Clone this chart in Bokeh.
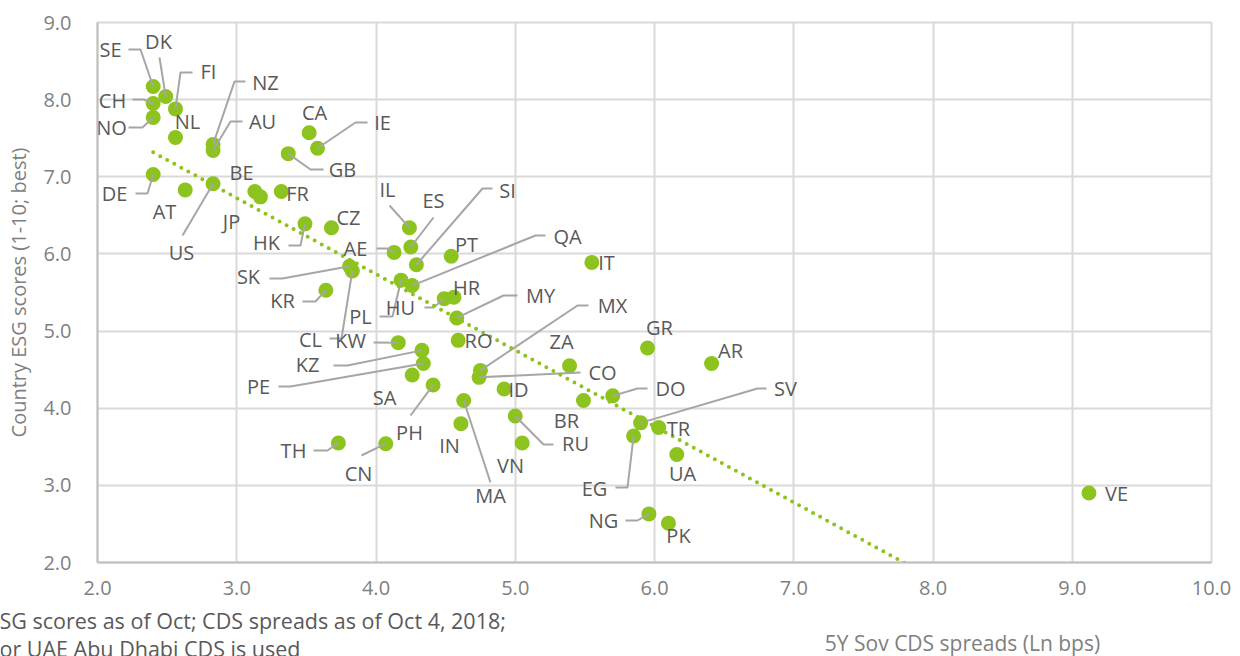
import numpy as np
from bokeh.plotting import figure
from bokeh.layouts import column
from bokeh.models import Range1d, FixedTicker, NumeralTickFormatter
from bokeh.core.properties import value
from bokeh.embed import file_html
from bokeh.resources import INLINE

# ---------------- data ----------------
countries = ["SE", "DK", "CH", "NO", "FI", "NL", "NZ", "AU", "CA", "IE",
             "GB", "DE", "AT", "US", "BE", "JP", "FR", "HK", "CZ", "IL",
             "ES", "AE", "SI", "PT", "SK", "CL", "IT", "QA", "PL", "HU",
             "HR", "MY", "KW", "RO", "KZ", "PE", "SA", "PH", "MX", "CO",
             "ID", "IN", "MA", "RU", "VN", "TH", "CN", "ZA", "BR", "DO",
             "GR", "AR", "SV", "TR", "EG", "UA", "NG", "PK", "VE", "KR"]
cds_spread = [2.40, 2.49, 2.40, 2.40, 2.56, 2.56, 2.83, 2.83, 3.52, 3.58,
              3.37, 2.40, 2.63, 2.83, 3.13, 3.17, 3.32, 3.49, 3.68, 4.24,
              4.25, 4.13, 4.29, 4.54, 3.81, 3.83, 5.55, 4.26, 4.18, 4.49,
              4.56, 4.58, 4.16, 4.59, 4.33, 4.34, 4.26, 4.41, 4.75, 4.74,
              4.92, 4.61, 4.63, 5.00, 5.05, 3.73, 4.07, 5.39, 5.49, 5.70,
              5.95, 6.41, 5.90, 6.03, 5.85, 6.16, 5.96, 6.10, 9.12, 3.64]
esg_score = [8.17, 8.04, 7.95, 7.77, 7.88, 7.51, 7.42, 7.34, 7.57, 7.37,
             7.30, 7.03, 6.83, 6.91, 6.81, 6.74, 6.81, 6.39, 6.34, 6.34,
             6.09, 6.02, 5.86, 5.97, 5.84, 5.78, 5.89, 5.59, 5.66, 5.42,
             5.44, 5.17, 4.85, 4.88, 4.75, 4.58, 4.43, 4.30, 4.49, 4.40,
             4.25, 3.80, 4.10, 3.90, 3.55, 3.55, 3.54, 4.55, 4.10, 4.16,
             4.78, 4.58, 3.81, 3.75, 3.64, 3.40, 2.63, 2.51, 2.90, 5.53]
x_ticks = [2, 3, 4, 5, 6, 7, 8, 9, 10]
y_ticks = [2, 3, 4, 5, 6, 7, 8, 9]
x_title = "5Y Sov CDS spreads (Ln bps)"
y_title = "Country ESG scores (1-10; best)"
note_lines = ["SG scores as of Oct; CDS spreads as of Oct 4, 2018;",
              "or UAE Abu Dhabi CDS is used"]

# ---------------- layout ----------------
W = 1240
H1, H2 = 600, 56
BL, BR, BT, BB = 97, 29, 22, 38
FX0, FX1 = BL, W - BR          # page px of x=2 / x=10
FY1, FY0 = BT, H1 - BB         # page px of y=9 / y=2


def at(X, Y):
    """page-pixel position -> data coordinates (for annotation placement)"""
    return (2 + (X - FX0) * 8.0 / (FX1 - FX0),
            2 + (FY0 - Y) * 7.0 / (FY0 - FY1))


# label centres (page px) and leader elbows (page px)
label_px = {
    "SE": (110, 49), "DK": (158, 41), "FI": (208, 71), "CH": (112, 100),
    "NO": (111, 127), "NL": (187, 121), "NZ": (265, 82), "AU": (262, 121),
    "CA": (314, 112), "IE": (382, 122), "GB": (342, 169), "DE": (114, 193),
    "AT": (164, 211), "BE": (241, 172), "US": (181, 252), "JP": (231, 221),
    "FR": (297, 193), "HK": (266, 242), "CZ": (348, 217), "IL": (387, 189),
    "ES": (433, 200), "SI": (507, 190), "AE": (355, 248), "PT": (466, 244),
    "QA": (567, 236), "IT": (606, 262), "SK": (248, 276), "KR": (282, 300),
    "PL": (360, 316), "HU": (400, 307), "HR": (466, 287), "MY": (540, 295),
    "MX": (612, 305), "CL": (310, 339), "KW": (350, 340), "RO": (478, 340),
    "KZ": (307, 364), "PE": (258, 386), "SA": (384, 397), "PH": (409, 432),
    "TH": (293, 450), "CN": (358, 473), "IN": (449, 445), "MA": (490, 495),
    "VN": (510, 465), "RU": (575, 443), "ID": (518, 389), "CO": (602, 372),
    "ZA": (561, 341), "BR": (566, 420), "EG": (594, 488), "GR": (659, 327),
    "AR": (730, 350), "DO": (670, 388), "SV": (785, 388), "TR": (678, 428),
    "UA": (682, 473), "NG": (603, 520), "PK": (678, 535), "VE": (1116, 493),
}
leader_px = {
    "SE": [(128, 49), (140, 49)], "DK": [(159, 57)],
    "FI": [(192, 72), (180, 72)], "CH": [(132, 99), (143, 99)],
    "NO": [(128, 127), (142, 127)], "NZ": [(245, 81), (234, 81)],
    "AU": [(242, 121), (230, 121)], "IE": [(367, 122), (355, 122)],
    "GB": [(323, 169), (310, 169)], "DE": [(135, 193), (147, 193)],
    "US": [(182, 235)], "HK": [(288, 245), (300, 245)],
    "IL": [(389, 205)], "ES": [(433, 217)],
    "SI": [(492, 188), (482, 188)], "AE": [(376, 248), (387, 248)],
    "QA": [(545, 235), (535, 235)], "SK": [(269, 278), (282, 278)],
    "KR": [(302, 301), (315, 301)], "PL": [(379, 316), (392, 316)],
    "HU": [(424, 307), (433, 307)], "MY": [(517, 295), (503, 295)],
    "MX": [(588, 305), (577, 305)], "CL": [(329, 338), (341, 338)],
    "KW": [(373, 342)], "KZ": [(333, 365), (347, 365)],
    "PE": [(278, 386), (290, 386)], "PH": [(410, 415)],
    "TH": [(313, 450), (327, 450)], "CN": [(361, 455)],
    "MA": [(490, 482)], "RU": [(553, 444), (543, 444)],
    "CO": [(580, 372)], "EG": [(615, 487), (627, 487)],
    "DO": [(647, 388), (637, 388)], "SV": [(766, 388), (757, 388)],
    "NG": [(625, 520), (637, 520)],
}

GREEN = "#8cc31f"
GRID = "#d9d9d9"
TXT = "#595959"
TICK = "#7f7f7f"
LEAD = "#a6a6a6"
FONT = "Open Sans"

p = figure(width=W, height=H1, x_range=Range1d(2, 10), y_range=Range1d(2, 9),
           output_backend="svg", toolbar_location=None,
           min_border_left=BL, min_border_right=BR,
           min_border_top=BT, min_border_bottom=BB)
p.background_fill_color = "white"
p.border_fill_color = "white"
p.outline_line_color = GRID
p.outline_line_width = 2

p.xaxis.ticker = FixedTicker(ticks=x_ticks)
p.yaxis.ticker = FixedTicker(ticks=y_ticks)
p.xgrid.ticker = FixedTicker(ticks=x_ticks)
p.ygrid.ticker = FixedTicker(ticks=y_ticks)
p.grid.grid_line_color = GRID
p.grid.grid_line_width = 2
for ax in (p.xaxis, p.yaxis):
    ax.formatter = NumeralTickFormatter(format="0.0")
    ax.major_tick_line_color = None
    ax.minor_tick_line_color = None
    ax.axis_line_color = "#bfbfbf"
    ax.axis_line_width = 2
    ax.major_label_text_font = FONT
    ax.major_label_text_font_size = "20px"
    ax.major_label_text_color = TICK
p.xaxis.major_label_standoff = 12
p.yaxis.major_label_standoff = 20
p.yaxis.axis_label = y_title
p.yaxis.axis_label_text_font = FONT
p.yaxis.axis_label_text_font_size = "20px"
p.yaxis.axis_label_text_font_style = "normal"
p.yaxis.axis_label_text_color = TICK
p.yaxis.axis_label_standoff = 8

# points
p.scatter(cds_spread, esg_score, size=15, fill_color=GREEN, line_color=None)

# leader lines
pos = {c: (x, y) for c, x, y in zip(countries, cds_spread, esg_score)}
lxs, lys = [], []
for c, pts in leader_px.items():
    dd = [at(*pt) for pt in pts] + [pos[c]]
    lxs.append([d[0] for d in dd])
    lys.append([d[1] for d in dd])
p.multi_line(lxs, lys, line_color=LEAD, line_width=2)

# linear trend line over the data range
k, b = np.polyfit(cds_spread, esg_score, 1)
tx = np.array([min(cds_spread), max(cds_spread)])
p.line(tx, k * tx + b, line_color=GREEN, line_width=4, line_dash="0 8",
       line_cap="round")

# country labels
lab = [at(*label_px[c]) for c in countries]
p.text([t[0] for t in lab], [t[1] for t in lab], text=countries,
       text_align="center", text_baseline="middle",
       text_font=value(FONT), text_font_size="20px", text_color=TXT)

# ---------------- strip below: x title and footnote ----------------
q = figure(width=W, height=H2, x_range=Range1d(0, W), y_range=Range1d(H2, 0),
           output_backend="svg", toolbar_location=None,
           x_axis_type=None, y_axis_type=None,
           min_border_left=0, min_border_right=0,
           min_border_top=0, min_border_bottom=0)
q.outline_line_color = None
q.background_fill_color = "white"
q.border_fill_color = "white"
q.grid.visible = False

q.text([962], [42], text=[x_title], text_align="center",
       text_baseline="middle", text_font=value(FONT),
       text_font_size="21px", text_color=TICK)
q.text([-1, -1], [20, 48], text=note_lines, text_align="left",
       text_baseline="middle", text_font=value(FONT),
       text_font_size="21.5px", text_color=TXT)

for f in (p, q):
    try:
        f.frame_align = False
    except Exception:
        pass

layout = column(p, q, spacing=0)
open("out.html", "w").write(file_html(layout, INLINE))
